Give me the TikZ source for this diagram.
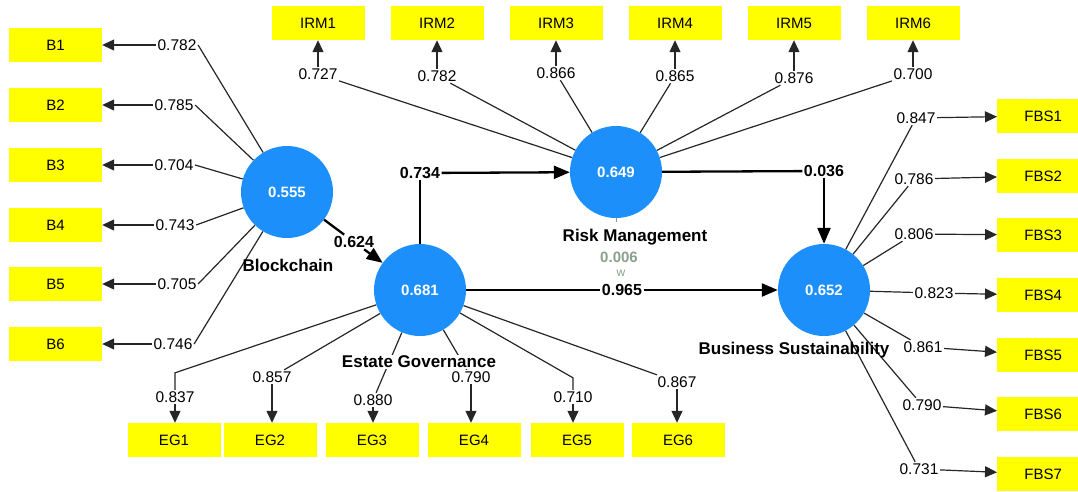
\documentclass[tikz,border=0pt]{standalone}
\usepackage{fontspec}
\setmainfont{Liberation Sans}
\usetikzlibrary{positioning,arrows.meta}
\definecolor{lvblue}{RGB}{28,143,250}
\definecolor{indyellow}{RGB}{255,255,0}
\definecolor{modgray}{RGB}{138,160,138}

\begin{document}
\begin{tikzpicture}[x=1pt,y=-1pt,
    lv/.style={circle,fill=lvblue,minimum size=92pt,inner sep=0pt,text=white,font=\fontsize{15}{18}\selectfont\bfseries},
    ind/.style={fill=indyellow,minimum width=93pt,minimum height=34pt,inner sep=0pt,font=\fontsize{15}{18}\selectfont},
    ldg/.style={fill=white,inner sep=1.5pt,font=\fontsize{15.5}{18}\selectfont},
    coef/.style={fill=white,inner sep=1.5pt,font=\fontsize{16}{18}\selectfont\bfseries},
    lvname/.style={inner sep=0.5pt,font=\fontsize{17}{19}\selectfont\bfseries},
    loadline/.style={draw=black!85,line width=1.2pt},
    loadarrow/.style={loadline,-{Triangle[length=12pt,width=11pt]}},
    pathline/.style={line width=2.3pt},
    patharrow/.style={pathline,-{Triangle[length=16pt,width=13pt]}}]
    \useasboundingbox (0,0) rectangle (1078,491);

    \node[lv] (BC) at (287,192) {0.555};
    \node[lv] (EG) at (420,290) {0.681};
    \node[lv] (RM) at (616,172) {0.649};
    \node[lv] (BS) at (824,290) {0.652};

    \foreach \i/\y/\lx/\v in {1/45/177/0.782,2/105/174/0.785,3/165/174/0.704,4/225/175/0.743,5/284/177/0.705,6/344/173/0.746}{
        \node[ind] (B\i) at (55.5,\y) {B\i};
        \node[ldg] (lB\i) at (\lx,\y) {\v};
        \draw[loadline] (BC) -- (lB\i.east);
        \draw[loadarrow] (lB\i) -- (B\i);
    }

    \foreach \i/\x/\ly/\v in {1/318/74/0.727,2/437/76/0.782,3/556/73/0.866,4/675/76/0.865,5/794/78/0.876,6/913/74/0.700}{
        \node[ind] (I\i) at (\x,23) {IRM\i};
        \node[ldg] (lI\i) at (\x,\ly) {\v};
        \draw[loadline] (RM) -- (lI\i);
        \draw[loadarrow] (lI\i) -- (I\i);
    }

    \foreach \i/\x/\lx/\ly/\v in {1/174/175/397/0.837,2/270/272/377/0.857,3/372/373/400/0.880,4/474/471/377/0.790,5/577/573/397/0.710,6/678/677/382/0.867}{
        \node[ind] (E\i) at (\x,440) {EG\i};
        \node[ldg] (lE\i) at (\lx,\ly) {\v};
        \draw[loadarrow] (lE\i) -- (lE\i |- E\i.north);
    }
    \draw[loadline] (EG) -- ([yshift=17pt]lE1.north) -- (lE1);
    \draw[loadline] (EG) -- ([yshift=12pt]lE5.north) -- (lE5);
    \foreach \i in {2,3,4,6}
        \draw[loadline] (EG) -- (lE\i);

    \foreach \i/\y/\lx/\ly/\v in {1/116/916/118/0.847,2/176/914/179/0.786,3/235/914/234/0.806,4/295/934/293/0.823,5/355/923/347/0.861,6/414/922/405/0.790,7/474/919/469/0.731}{
        \node[ind,minimum width=81pt,anchor=west] (F\i) at (997,\y) {\hspace*{11pt}FBS\i};
        \node[ldg] (lF\i) at (\lx,\ly) {\v};
        \draw[loadline] (BS) -- (lF\i);
        \draw[loadarrow] (lF\i) -- (F\i);
    }

    \node[coef] (c624) at (354,242) {0.624};
    \node[coef] (c734) at (420,173) {0.734};
    \node[coef] (c036) at (824,171) {0.036};
    \node[coef] (c965) at (622,290) {0.965};
    \draw[pathline] (BC) -- (c624);
    \draw[patharrow] (c624) -- (EG);
    \draw[pathline] (EG) -- (c734);
    \draw[patharrow] (c734) -- (RM);
    \draw[pathline] (RM) -- (c036);
    \draw[patharrow] (c036) -- (BS);
    \draw[pathline] (EG) -- (c965);
    \draw[patharrow] (c965) -- (BS);

    \node[lvname] (nBC) at (288,265) {Blockchain};
    \node[lvname,fill=white] (nEG) at (419,362) {Estate Governance};
    \node[lvname] (nRM) at (635,237) {Risk Management};
    \node[lvname] (nBS) at (794,350) {Business Sustainability};
    \node[font=\fontsize{15}{18}\selectfont\bfseries,text=modgray] (mod) at (619,257) {0.006};
    \node[font=\fontsize{12}{13}\selectfont,text=modgray,inner sep=0pt] (modw) at (621,273) {w};
    \draw[modgray,line width=0.8pt] (RM.south) -- ++(0,4);
\end{tikzpicture}
\end{document}
